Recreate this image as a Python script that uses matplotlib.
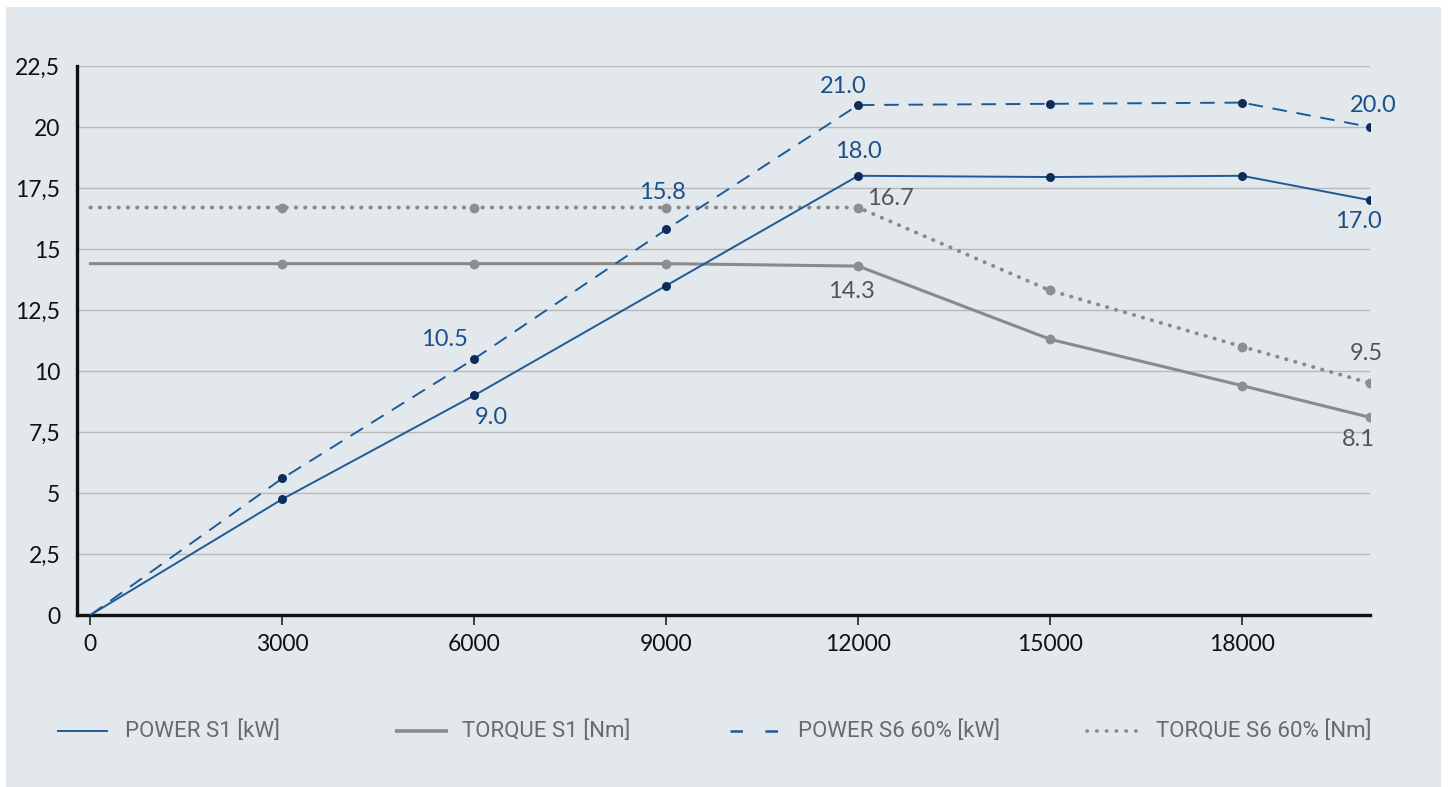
import matplotlib
matplotlib.use("Agg")
import matplotlib.pyplot as plt
from matplotlib.lines import Line2D
from matplotlib.patches import Rectangle
from matplotlib import font_manager as fm

speed = [0, 3000, 6000, 9000, 12000, 15000, 18000, 20000]
power_s1 = [0, 4.75, 9.0, 13.5, 18.0, 17.95, 18.0, 17.0]
torque_s1 = [14.4, 14.4, 14.4, 14.4, 14.3, 11.3, 9.4, 8.1]
power_s6 = [0, 5.6, 10.5, 15.8, 20.9, 20.95, 21.0, 20.0]
torque_s6 = [16.7, 16.7, 16.7, 16.7, 16.7, 13.3, 11.0, 9.5]

x_ticks = [0, 3000, 6000, 9000, 12000, 15000, 18000]
y_ticks = [0, 2.5, 5, 7.5, 10, 12.5, 15, 17.5, 20, 22.5]
y_tick_labels = ["0", "2,5", "5", "7,5", "10", "12,5", "15", "17,5", "20", "22,5"]

legend_labels = ["POWER S1 [kW]", "TORQUE S1 [Nm]", "POWER S6 60% [kW]", "TORQUE S6 60% [Nm]"]

# value labels: (series, index, text)
value_labels = [
    ("p1", 2, "9.0"), ("p1", 4, "18.0"), ("p1", 7, "17.0"),
    ("p6", 2, "10.5"), ("p6", 3, "15.8"), ("p6", 4, "21.0"), ("p6", 7, "20.0"),
    ("t1", 4, "14.3"), ("t6", 4, "16.7"), ("t6", 7, "9.5"), ("t1", 7, "8.1"),
]
label_offsets = {  # pixel offsets for annotation placement
    ("p1", 2): (17, -22), ("p1", 4): (0, 24), ("p1", 7): (-12, -21),
    ("p6", 2): (-30, 19), ("p6", 3): (-4, 37), ("p6", 4): (-15, 19), ("p6", 7): (3, 21),
    ("t1", 4): (-7, -25), ("t6", 4): (32, 9), ("t6", 7): (-4, 30), ("t1", 7): (-12, -22),
}

BLUE_LINE = "#1d5b96"
NAVY = "#0c2c5c"
BLUE_TXT = "#1b4f8c"
GREY_LINE = "#8a8a8a"
GREY_MK = "#8e8e8e"
GREY_TXT = "#555555"
PANEL = "#e3e8ec"

avail = {f.name for f in fm.fontManager.ttflist}
num_font = "Lato" if "Lato" in avail else "DejaVu Sans"
leg_font = "Roboto" if "Roboto" in avail else "DejaVu Sans"

W, H = 1451, 787
fig = plt.figure(figsize=(W / 100, H / 100), dpi=100, facecolor="white")
panel = Rectangle((6 / W, 0), (1441 - 6) / W, 1 - 7 / H,
                  transform=fig.transFigure, facecolor=PANEL,
                  edgecolor="none", zorder=-10)
fig.patches.append(panel)

ax = fig.add_axes([77 / W, 1 - 615 / H, (1370 - 77) / W, (615 - 66) / H])
ax.set_zorder(5)
ax.set_facecolor("none")

ax.plot(speed, power_s1, color=BLUE_LINE, lw=1.4, zorder=3)
ax.plot(speed, power_s6, color=BLUE_LINE, lw=1.4, dashes=(7.5, 5), zorder=3)
ax.plot(speed, torque_s1, color=GREY_LINE, lw=2.2, zorder=2)
ax.plot(speed, torque_s6, color=GREY_LINE, lw=2.8, dashes=(0.1, 2.3),
        dash_capstyle="round", zorder=2)

ax.scatter(speed[1:], power_s1[1:], s=42, color=NAVY, zorder=4, linewidths=0)
ax.scatter(speed[1:], power_s6[1:], s=42, color=NAVY, zorder=4, linewidths=0)
ax.scatter(speed[1:], torque_s1[1:], s=50, color=GREY_MK, zorder=4, linewidths=0)
ax.scatter(speed[1:], torque_s6[1:], s=50, color=GREY_MK, zorder=4, linewidths=0)

series = {"p1": power_s1, "p6": power_s6, "t1": torque_s1, "t6": torque_s6}
for key, idx, txt in value_labels:
    col = BLUE_TXT if key.startswith("p") else GREY_TXT
    dx, dy = label_offsets[(key, idx)]
    ax.annotate(txt, (speed[idx], series[key][idx]), xytext=(dx, dy),
                textcoords="offset pixels", ha="center", va="center",
                fontsize=17, color=col, family=num_font, zorder=5)

ax.set_xlim(-210, 20000)
ax.set_ylim(0, 22.5)
ax.set_xticks(x_ticks)
ax.set_xticklabels([str(v) for v in x_ticks])
ax.set_yticks(y_ticks)
ax.set_yticklabels(y_tick_labels)
for lab in ax.get_xticklabels() + ax.get_yticklabels():
    lab.set_family(num_font)
    lab.set_fontsize(16.5)
    lab.set_color("#111111")
ax.tick_params(axis="x", length=7, width=1.2, color="#222222", pad=7)
ax.tick_params(axis="y", length=0, pad=12)
ax.grid(axis="y", color="#b9b9b9", lw=1.0, zorder=1)
ax.set_axisbelow(True)
for s in ("top", "right"):
    ax.spines[s].set_visible(False)
for s in ("left", "bottom"):
    ax.spines[s].set_linewidth(2.4)
    ax.spines[s].set_color("#111111")

# legend drawn manually in figure pixel coordinates
ly = 1 - 731 / H
handles = [
    dict(x0=57, x1=108, color=BLUE_LINE, lw=1.4, dashes=None),
    dict(x0=395, x1=448, color=GREY_LINE, lw=2.6, dashes=None),
    dict(x0=730, x1=782, color=BLUE_LINE, lw=1.8, dashes=(5, 9)),
    dict(x0=1087, x1=1145, color=GREY_LINE, lw=2.6, dashes=(0.1, 2.6)),
]
text_x = [125, 462, 798, 1156]
for h, tx, lab in zip(handles, text_x, legend_labels):
    ln = Line2D([h["x0"] / W, h["x1"] / W], [ly, ly], transform=fig.transFigure,
                color=h["color"], lw=h["lw"], solid_capstyle="butt", zorder=6)
    if h["dashes"]:
        ln.set_dashes(h["dashes"])
        if h["dashes"][0] < 1:
            ln.set_dash_capstyle("round")
    fig.lines.append(ln)
    fig.text(tx / W, ly, lab, ha="left", va="center", fontsize=16,
             color="#6a6a6a", family=leg_font, zorder=6)

fig.savefig("out.png", dpi=100, facecolor="white")
